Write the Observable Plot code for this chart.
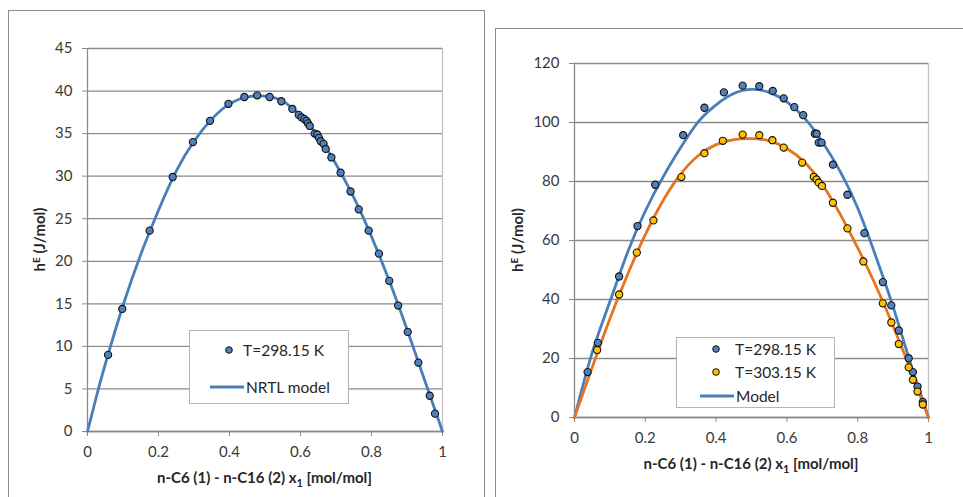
<!DOCTYPE html>
<html><head><meta charset="utf-8">
<script src="https://cdn.jsdelivr.net/npm/d3@7"></script>
<script src="https://cdn.jsdelivr.net/npm/@observablehq/plot@0.6"></script>
<style>
html,body{margin:0;padding:0;background:#fff;}
body{width:963px;height:497px;overflow:hidden;position:relative;font-family:Lato,"Open Sans",sans-serif;}
.box{position:absolute;border:1px solid #8c8c8c;background:#fff;box-sizing:content-box;}
.box svg{position:absolute;left:0;top:0;overflow:visible;}
.legend{position:absolute;border:1px solid #b4b4b4;background:#fff;font-size:15.5px;color:#262626;}
.legend .item{position:absolute;white-space:nowrap;line-height:16px;}
.legend svg{position:absolute;overflow:visible;}
</style>
</head><body>
<div id="box1" class="box" style="left:8px;top:10px;width:475px;height:500px"></div>
<div id="box2" class="box" style="left:495px;top:28px;width:480px;height:480px"></div>
<div id="leg1" class="legend" style="left:189px;top:330px;width:158px;height:72px"></div>
<div id="leg2" class="legend" style="left:676px;top:337px;width:157px;height:69px"></div>
<script>
// ---------- data: left chart (T = 298.15 K, NRTL model) ----------
const xTicks = [0, 0.2, 0.4, 0.6, 0.8, 1];
const yTicksLeft = [0, 5, 10, 15, 20, 25, 30, 35, 40, 45];
const yTicksRight = [0, 20, 40, 60, 80, 100, 120];
const xLabel = "n-C6 (1) - n-C16 (2) x";
const yLabel = "h";

const x298L = [0.058,0.098,0.175,0.240,0.297,0.345,0.397,0.442,0.478,0.513,0.546,0.577,0.595,0.603,0.611,0.617,0.621,0.626,0.640,0.647,0.652,0.657,0.665,0.671,0.687,0.713,0.741,0.764,0.792,0.821,0.850,0.875,0.902,0.932,0.964,0.979];
const h298L = [9.0,14.4,23.6,29.9,34.0,36.5,38.5,39.3,39.5,39.3,38.8,37.9,37.2,36.9,36.7,36.5,36.2,35.9,35.0,34.9,34.5,34.1,33.8,33.2,32.2,30.4,28.2,26.1,23.6,20.9,17.7,14.8,11.7,8.1,4.2,2.1];
const xNrtl = [0,0.025,0.05,0.1,0.15,0.2,0.25,0.3,0.35,0.4,0.45,0.5,0.55,0.6,0.65,0.7,0.75,0.8,0.85,0.9,0.95,0.975,1];
const hNrtl = [0,4.1,7.9,14.8,20.8,26.0,30.6,34.1,36.7,38.5,39.3,39.4,38.8,37.1,34.7,31.4,27.5,22.9,17.7,12.0,6.0,3.0,0];

// ---------- data: right chart (298.15 K and 303.15 K, model) ----------
const x298R = [0.037,0.066,0.126,0.178,0.228,0.307,0.367,0.422,0.475,0.522,0.560,0.591,0.621,0.646,0.679,0.684,0.690,0.698,0.730,0.771,0.819,0.871,0.895,0.916,0.944,0.956,0.969,0.984];
const h298R = [15.4,25.3,47.8,64.9,78.9,95.7,105.0,110.2,112.5,112.3,110.7,108.2,105.2,102.5,96.2,96.2,93.2,93.2,85.7,75.5,62.5,45.9,38.0,29.5,20.1,15.4,10.5,5.3];
const x303R = [0.064,0.126,0.176,0.223,0.302,0.367,0.419,0.475,0.522,0.559,0.591,0.643,0.676,0.684,0.690,0.699,0.730,0.771,0.816,0.871,0.895,0.916,0.944,0.956,0.969,0.984];
const h303R = [22.9,41.7,55.9,66.8,81.5,89.6,93.8,95.9,95.7,94.0,91.5,86.4,81.6,80.7,79.6,78.5,72.8,64.1,52.9,38.7,32.2,24.9,17.0,12.8,8.8,4.4];
const xModel = [0,0.05,0.1,0.15,0.2,0.25,0.3,0.35,0.4,0.45,0.5,0.55,0.6,0.65,0.7,0.75,0.8,0.85,0.9,0.95,0.975,1];
const hModel298 = [0,22,39.3,56,70,81.5,91.5,100.3,106,109.8,111.2,110.2,107,101.5,93.5,83.5,71,55,37.5,18,9,0];
const hModel303 = [0,17,33.5,48.5,62,73.5,82.5,88.8,92.5,94.2,94.5,93.8,91.2,86.5,79,69,57.5,45,31,16,8,0];

const legend1 = ["T=298.15 K", "NRTL model"];
const legend2 = ["T=298.15 K", "T=303.15 K", "Model"];

const BLUE_LINE = "#4a7ebb", BLUE_DOT = "#4f81bd", ORANGE = "#e8731f", YELLOW = "#ffc000";
const GRID = "#8a8a8a", BORDER = "#c4c4c4", TEXT = "#3a3a3a";

const zip = (xs, ys) => xs.map((x, i) => ({x, y: ys[i]}));
const fmt = d => d === 0 ? "0" : d === 1 ? "1" : String(d);

function chart({width, height, margins, yDomain, yTicks, lines, dots}) {
  const [mt, mr, mb, ml] = margins;
  return Plot.plot({
    width, height, marginTop: mt, marginRight: mr, marginBottom: mb, marginLeft: ml,
    style: {fontFamily: "Lato, 'Open Sans', sans-serif", fontSize: "15px", color: TEXT, background: "transparent"},
    x: {domain: [0, 1], ticks: xTicks, tickFormat: fmt, label: null},
    y: {domain: yDomain, ticks: yTicks, label: null},
    marks: [
      Plot.gridY(yTicks, {stroke: GRID, strokeOpacity: 1, strokeWidth: 1.3}),
      Plot.ruleX([1], {stroke: BORDER, strokeWidth: 1.3}),
      Plot.ruleX([0], {stroke: GRID, strokeWidth: 1.3}),
      Plot.ruleY([0], {stroke: GRID, strokeWidth: 1.3}),
      Plot.axisX({ticks: xTicks, tickFormat: fmt, tickSize: 5, tickPadding: 10, stroke: GRID, label: null, fontSize: 15}),
      Plot.axisY({ticks: yTicks, tickSize: 5, tickPadding: 10, stroke: GRID, label: null, fontSize: 15}),
      ...lines.map(l => Plot.line(l.data, {x: "x", y: "y", stroke: l.color, strokeWidth: 2.8, curve: "natural"})),
      ...dots.map(d => Plot.dot(d.data, {x: "x", y: "y", r: 3.6, fill: d.color, stroke: "#111", strokeWidth: 1.1}))
    ]
  });
}

function addLabels(svg, width, height, margins, xLabelY, yLabelX) {
  const [mt, mr, mb, ml] = margins;
  const s = d3.select(svg);
  const cx = ml + (width - ml - mr) / 2;
  const cy = mt + (height - mt - mb) / 2;
  const xt = s.append("text").attr("x", cx).attr("y", xLabelY).attr("text-anchor", "middle")
    .attr("dy", "0.35em").attr("font-weight", "bold").attr("font-size", 15).attr("fill", "#262626");
  xt.append("tspan").text(xLabel);
  xt.append("tspan").attr("font-size", 11).attr("dy", 3.5).text("1");
  xt.append("tspan").attr("dy", -3.5).text(" [mol/mol]");
  const yt = s.append("text").attr("transform", `translate(${yLabelX},${cy}) rotate(-90)`)
    .attr("text-anchor", "middle").attr("dy", "0.35em").attr("font-weight", "bold")
    .attr("font-size", 15).attr("fill", "#262626");
  yt.append("tspan").text(yLabel);
  yt.append("tspan").attr("font-size", 10).attr("dy", -5).text("E");
  yt.append("tspan").attr("dy", 5).text(" (J/mol)");
}

// left
const m1 = [37, 42, 66, 78];
const svg1 = chart({width: 475, height: 486, margins: m1, yDomain: [0, 45], yTicks: yTicksLeft,
  lines: [{data: zip(xNrtl, hNrtl), color: BLUE_LINE}],
  dots: [{data: zip(x298L, h298L), color: BLUE_DOT}]});
document.getElementById("box1").appendChild(svg1);
addLabels(svg1, 475, 486, m1, 467, 31);

// right
const m2 = [34, 35, 80, 78];
const svg2 = chart({width: 467, height: 468, margins: m2, yDomain: [0, 120], yTicks: yTicksRight,
  lines: [{data: zip(xModel, hModel298), color: BLUE_LINE}, {data: zip(xModel, hModel303), color: ORANGE}],
  dots: [{data: zip(x298R, h298R), color: BLUE_DOT}, {data: zip(x303R, h303R), color: YELLOW}]});
document.getElementById("box2").appendChild(svg2);
addLabels(svg2, 467, 468, m2, 435, 22);

// legends
function legend(el, items) {
  const L = d3.select(el);
  items.forEach(it => {
    const g = L.append("svg").attr("width", 40).attr("height", 10)
      .style("left", it.sx + "px").style("top", (it.cy - 5) + "px");
    if (it.type === "dot") {
      g.append("circle").attr("cx", it.mx).attr("cy", 5).attr("r", 3.3)
        .attr("fill", it.color).attr("stroke", "#111").attr("stroke-width", 1);
    } else {
      g.append("line").attr("x1", 0).attr("x2", it.len).attr("y1", 5).attr("y2", 5)
        .attr("stroke", it.color).attr("stroke-width", 2.8);
    }
    L.append("div").attr("class", "item").style("left", it.tx + "px").style("top", (it.cy - 8) + "px").text(it.text);
  });
}
legend(document.getElementById("leg1"), [
  {type: "dot", sx: 20, mx: 19, cy: 19, color: BLUE_DOT, tx: 53, text: legend1[0]},
  {type: "line", sx: 20, len: 34, cy: 56, color: BLUE_LINE, tx: 56, text: legend1[1]}
]);
legend(document.getElementById("leg2"), [
  {type: "dot", sx: 22, mx: 17, cy: 11, color: BLUE_DOT, tx: 58, text: legend2[0]},
  {type: "dot", sx: 22, mx: 17, cy: 34, color: YELLOW, tx: 58, text: legend2[1]},
  {type: "line", sx: 23, len: 34, cy: 58, color: BLUE_LINE, tx: 59, text: legend2[2]}
]);
</script>
</body></html>
